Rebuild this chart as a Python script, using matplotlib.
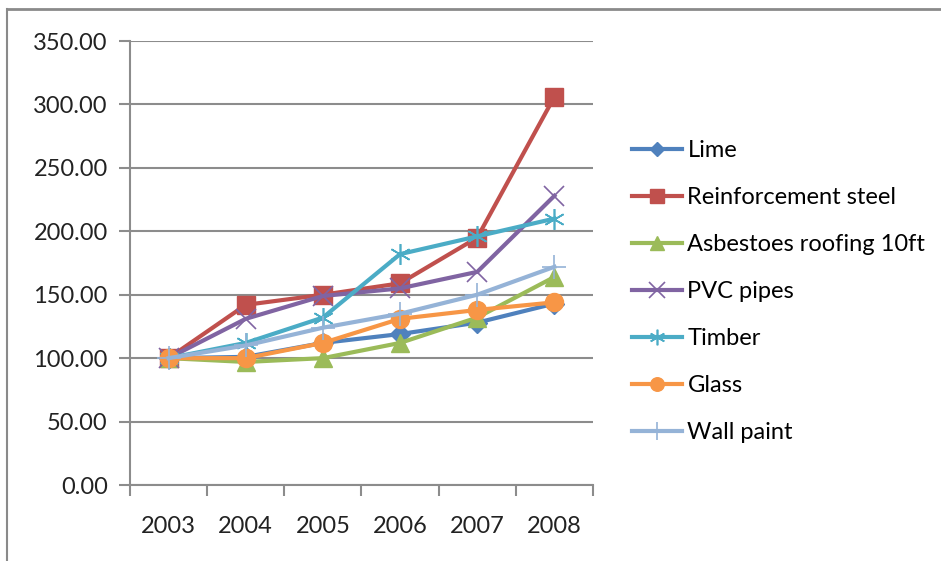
import matplotlib
matplotlib.use("Agg")
import matplotlib.pyplot as plt
from matplotlib.lines import Line2D
import numpy as np

years = ["2003", "2004", "2005", "2006", "2007", "2008"]
lime = [100, 101, 112, 119, 128, 143]
steel = [100, 142, 150, 159, 195, 306]
asbestos = [100, 97, 100, 112, 132, 164]
pvc = [100, 131, 149, 155, 168, 228]
timber = [100, 112, 132, 182, 196, 210]
glass = [100, 100, 112, 131, 138, 144]
wallpaint = [100, 110, 124, 135, 150, 172]

series = [
    ("Lime", lime, "#4F81BD", "D", 10),
    ("Reinforcement steel", steel, "#C0504D", "s", 13),
    ("Asbestoes roofing 10ft", asbestos, "#9BBB59", "^", 13),
    ("PVC pipes", pvc, "#8064A2", "x", 15),
    ("Timber", timber, "#4BACC6", (6, 2, 0), 15),
    ("Glass", glass, "#F79646", "o", 13),
    ("Wall paint", wallpaint, "#95B3D7", "+", 17),
]

plt.rcParams['font.family'] = ['Lato', 'DejaVu Sans']
fig = plt.figure(figsize=(9.41, 5.61), dpi=100)
ax = fig.add_axes([130/941, 1-485/561, 463/941, 444/561])

x = np.arange(len(years))
handles = []
for name, vals, col, mk, ms in series:
    mew = 1.2 if mk in ("x", "+", (6, 2, 0)) else 1
    ln, = ax.plot(x, vals, color=col, lw=3, marker=mk, markersize=ms,
                  markeredgewidth=mew, markeredgecolor=col, markerfacecolor=col,
                  label=name, solid_joinstyle='round')
    handles.append(ln)

ax.set_xlim(-0.5, len(years) - 0.5)
ax.set_ylim(0, 350)
ax.set_yticks(np.arange(0, 351, 50))
ax.set_yticklabels([f"{v:.2f}" for v in np.arange(0, 351, 50)])
ax.yaxis.grid(True, color="#8C8C8C", lw=1.5)
ax.set_axisbelow(True)
for s in ["top", "right"]:
    ax.spines[s].set_visible(False)
for s in ["left", "bottom"]:
    ax.spines[s].set_color("#8C8C8C")
    ax.spines[s].set_linewidth(1.5)
ax.tick_params(axis="y", length=8, width=1.5, color="#8C8C8C", labelsize=17, pad=8, labelcolor="#222222")
ax.set_xticks(x)
ax.set_xticklabels(years)
ax.set_xticks(np.arange(-0.5, len(years), 1), minor=True)
ax.tick_params(axis="x", which="major", length=0, labelsize=17, pad=22, labelcolor="#222222")
ax.tick_params(axis="x", which="minor", length=8, width=1.5, color="#8C8C8C")

leg = fig.legend(handles=handles, loc="upper left", bbox_to_anchor=(632/941, 1-140/561),
                 frameon=False, fontsize=17, labelspacing=1.1, handlelength=2.1,
                 handletextpad=0.25, borderaxespad=0, borderpad=0, markerscale=0.75)

fig.add_artist(Line2D([7/941, 1], [1-9/561, 1-9/561], color="#8A8A8A", lw=2, transform=fig.transFigure))
fig.add_artist(Line2D([7/941, 7/941], [0, 1-9/561], color="#8A8A8A", lw=1.5, transform=fig.transFigure))

fig.savefig("out.png", dpi=100)
